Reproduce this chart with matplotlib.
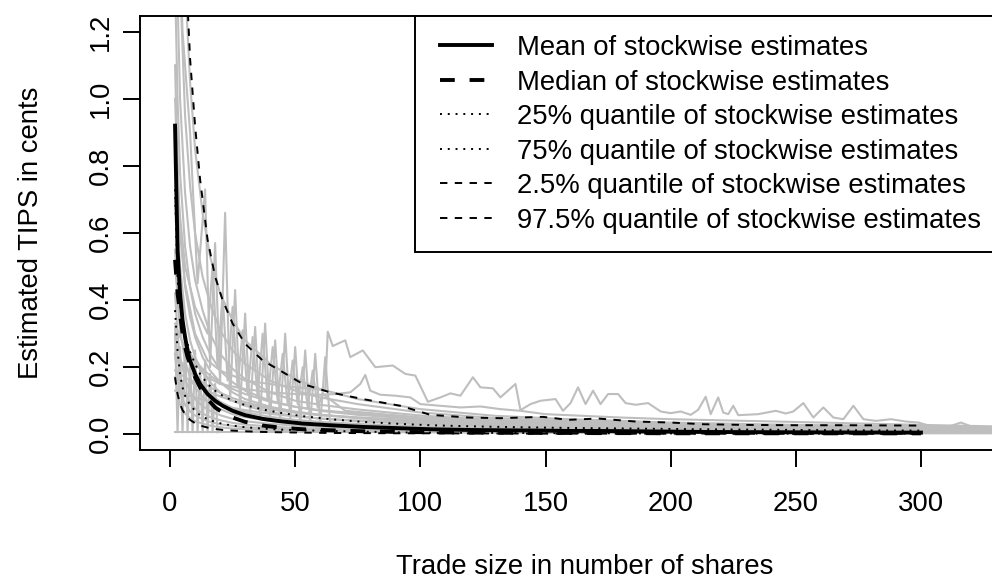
import matplotlib
matplotlib.use("Agg")
import matplotlib.pyplot as plt
from matplotlib.lines import Line2D
from matplotlib.patches import Rectangle

plt.rcParams["font.family"] = ["Liberation Sans", "DejaVu Sans"]

# ---- summary curves ----
q_x = [2, 3, 4, 5, 6, 7, 8, 10, 12, 15, 18, 21, 25, 30, 37, 44, 53, 64, 77, 92,
       104, 119, 132, 149, 159, 171, 186, 200, 213, 230, 250, 270, 300]
mean_y = [0.92, 0.55, 0.42, 0.34, 0.29, 0.25, 0.22, 0.18, 0.15, 0.12, 0.10, 0.085,
          0.07, 0.057, 0.046, 0.039, 0.032, 0.027, 0.022, 0.018, 0.015, 0.013, 0.012,
          0.011, 0.010, 0.010, 0.009, 0.008, 0.007, 0.0065, 0.006, 0.0055, 0.005]
median_y = [0.52, 0.42, 0.36, 0.30, 0.26, 0.23, 0.21, 0.17, 0.14, 0.105, 0.08, 0.065,
            0.05, 0.037, 0.026, 0.02, 0.015, 0.012, 0.009, 0.007, 0.006, 0.005, 0.0045,
            0.004, 0.004, 0.0035, 0.0035, 0.003, 0.003, 0.003, 0.003, 0.0028, 0.0028]
q25_y = [0.37, 0.25, 0.18, 0.14, 0.115, 0.10, 0.088, 0.07, 0.057, 0.045, 0.037, 0.031,
         0.026, 0.021, 0.017, 0.014, 0.012, 0.010, 0.008, 0.0055, 0.005, 0.0045, 0.004,
         0.0035, 0.0033, 0.003, 0.0028, 0.0026, 0.0024, 0.0022, 0.002, 0.002, 0.002]
q75_y = [0.73, 0.46, 0.39, 0.34, 0.30, 0.27, 0.245, 0.21, 0.18, 0.15, 0.13, 0.115,
         0.10, 0.087, 0.074, 0.064, 0.054, 0.045, 0.037, 0.031, 0.027, 0.024, 0.022,
         0.02, 0.019, 0.018, 0.017, 0.016, 0.015, 0.014, 0.013, 0.012, 0.011]
q025_y = [0.17, 0.12, 0.09, 0.072, 0.06, 0.05, 0.043, 0.033, 0.026, 0.02, 0.016, 0.013,
          0.011, 0.009, 0.007, 0.006, 0.005, 0.004, 0.0035, 0.003, 0.003, 0.0025, 0.0025,
          0.002, 0.002, 0.002, 0.0018, 0.0018, 0.0016, 0.0016, 0.0015, 0.0015, 0.0015]
q975_y = [3.5, 2.6, 2.1, 1.75, 1.5, 1.28, 1.12, 0.92, 0.76, 0.58, 0.47, 0.40, 0.33,
          0.27, 0.22, 0.19, 0.15, 0.125, 0.105, 0.085, 0.058, 0.05, 0.048, 0.052, 0.043,
          0.047, 0.038, 0.035, 0.03, 0.028, 0.027, 0.027, 0.026]

# ---- individual stocks (grey) ----
grid_x = [2, 3, 4, 6, 8, 10, 13, 16, 20, 25, 30, 40, 50, 60, 75, 100, 130, 160, 200,
          250, 300, 340]
stock_a = [3.2, 2.4, 1.9, 1.35, 1.05, 0.85, 0.66, 0.53, 0.42, 0.34, 0.28, 0.21, 0.165,
           0.135, 0.105, 0.075, 0.055, 0.045, 0.035, 0.028, 0.024, 0.02]
stock_b = [2.2, 1.7, 1.35, 0.95, 0.74, 0.6, 0.47, 0.39, 0.31, 0.25, 0.21, 0.16, 0.13,
           0.11, 0.09, 0.065, 0.048, 0.04, 0.032, 0.025, 0.021, 0.018]
stock_c = [1.7, 1.3, 1.0, 0.72, 0.56, 0.46, 0.37, 0.3, 0.24, 0.195, 0.165, 0.125, 0.1,
           0.088, 0.074, 0.056, 0.042, 0.035, 0.028, 0.022, 0.019, 0.016]
stock_d = [1.35, 1.0, 0.78, 0.56, 0.44, 0.36, 0.29, 0.24, 0.19, 0.155, 0.13, 0.1, 0.082,
           0.07, 0.058, 0.045, 0.035, 0.029, 0.024, 0.019, 0.016, 0.014]
stock_e = [1.1, 0.8, 0.62, 0.44, 0.35, 0.29, 0.23, 0.19, 0.155, 0.125, 0.105, 0.082,
           0.068, 0.058, 0.048, 0.037, 0.029, 0.025, 0.02, 0.016, 0.014, 0.012]
stock_f = [0.88, 0.64, 0.5, 0.36, 0.28, 0.23, 0.185, 0.155, 0.125, 0.1, 0.085, 0.066,
           0.055, 0.047, 0.039, 0.03, 0.024, 0.02, 0.017, 0.014, 0.012, 0.011]
stock_g = [0.7, 0.5, 0.39, 0.28, 0.22, 0.18, 0.145, 0.12, 0.097, 0.078, 0.066, 0.052,
           0.043, 0.037, 0.031, 0.024, 0.019, 0.016, 0.014, 0.012, 0.01, 0.009]
stock_h = [0.55, 0.4, 0.31, 0.22, 0.17, 0.14, 0.112, 0.093, 0.075, 0.06, 0.051, 0.04,
           0.033, 0.028, 0.024, 0.019, 0.015, 0.013, 0.011, 0.009, 0.008, 0.007]
stock_i = [0.42, 0.3, 0.23, 0.165, 0.128, 0.105, 0.084, 0.07, 0.057, 0.046, 0.039,
           0.031, 0.026, 0.022, 0.019, 0.015, 0.012, 0.01, 0.009, 0.008, 0.007, 0.006]
stock_j = [0.32, 0.23, 0.17, 0.12, 0.094, 0.077, 0.062, 0.051, 0.042, 0.034, 0.029,
           0.023, 0.019, 0.016, 0.014, 0.011, 0.009, 0.008, 0.007, 0.006, 0.005, 0.005]
stock_k = [0.24, 0.17, 0.125, 0.088, 0.068, 0.056, 0.045, 0.037, 0.03, 0.025, 0.021,
           0.017, 0.014, 0.012, 0.01, 0.008, 0.007, 0.006, 0.005, 0.0045, 0.004, 0.004]
stock_l = [0.17, 0.12, 0.088, 0.062, 0.048, 0.039, 0.032, 0.026, 0.021, 0.017, 0.015,
           0.012, 0.01, 0.0085, 0.0072, 0.006, 0.005, 0.0045, 0.004, 0.0035, 0.003, 0.003]
stock_m = [0.33, 0.31, 0.29, 0.26, 0.24, 0.22, 0.195, 0.175, 0.155, 0.135, 0.12, 0.097,
           0.082, 0.072, 0.062, 0.05, 0.041, 0.035, 0.029, 0.023, 0.02, 0.017]
stock_n = [0.24, 0.23, 0.22, 0.2, 0.185, 0.17, 0.155, 0.14, 0.124, 0.108, 0.096, 0.078,
           0.066, 0.058, 0.05, 0.04, 0.033, 0.028, 0.024, 0.02, 0.017, 0.015]
stock_o = [0.19, 0.185, 0.18, 0.17, 0.16, 0.15, 0.138, 0.126, 0.113, 0.1, 0.09, 0.074,
           0.064, 0.057, 0.05, 0.041, 0.034, 0.029, 0.025, 0.021, 0.018, 0.016]
stock_p = [0.13, 0.128, 0.125, 0.12, 0.115, 0.11, 0.103, 0.096, 0.088, 0.079, 0.072,
           0.061, 0.053, 0.047, 0.041, 0.034, 0.028, 0.024, 0.021, 0.018, 0.016, 0.014]

# stocks with their own trade-size grids
bump_x = [2, 4, 6, 10, 15, 20, 30, 40, 50, 60, 66, 72, 76, 78, 80, 84, 90, 96, 100, 108,
          116, 124, 132, 140, 150, 165, 180, 200, 230, 260, 300, 340]
bump_y = [0.5, 0.35, 0.28, 0.21, 0.17, 0.15, 0.135, 0.125, 0.12, 0.118, 0.12, 0.125,
          0.15, 0.177, 0.13, 0.118, 0.115, 0.11, 0.09, 0.085, 0.08, 0.083, 0.075, 0.07,
          0.06, 0.055, 0.05, 0.045, 0.04, 0.035, 0.028, 0.022]
noisy_x = [2, 4, 6, 10, 15, 20, 30, 40, 50, 58, 62, 63, 65, 67, 70, 72, 77, 82, 89, 94,
           98, 103, 108, 112, 116, 121, 124, 129, 132, 138, 140, 144, 148, 154, 157, 160,
           163, 166, 169, 172, 175, 179, 182, 186, 191, 196, 200, 204, 208, 211, 214, 216,
           219, 221, 223, 225, 227, 235, 242, 246, 249, 253, 257, 261, 265, 269, 273, 277,
           282, 288, 294, 299, 305, 310, 316, 322, 330, 340]
noisy_y = [1.0, 0.6, 0.45, 0.3, 0.22, 0.19, 0.16, 0.15, 0.14, 0.135, 0.13, 0.306, 0.263,
           0.27, 0.28, 0.23, 0.25, 0.20, 0.205, 0.18, 0.175, 0.097, 0.11, 0.122, 0.115,
           0.17, 0.14, 0.137, 0.11, 0.15, 0.072, 0.09, 0.10, 0.105, 0.07, 0.093, 0.14,
           0.09, 0.13, 0.09, 0.12, 0.12, 0.093, 0.088, 0.093, 0.068, 0.063, 0.068, 0.058,
           0.073, 0.112, 0.06, 0.11, 0.065, 0.06, 0.085, 0.057, 0.06, 0.07, 0.062, 0.068,
           0.093, 0.05, 0.08, 0.05, 0.045, 0.085, 0.045, 0.04, 0.045, 0.038, 0.035, 0.022,
           0.02, 0.035, 0.018, 0.02, 0.025]
zig1_x = [2, 3, 4, 5, 6, 7, 8, 9, 10, 11, 12, 13, 14, 15, 16, 17, 18, 19]
zig1_y = [0.3, 0.006, 0.26, 0.006, 0.3, 0.006, 0.22, 0.006, 0.25, 0.006, 0.2, 0.006,
          0.22, 0.006, 0.18, 0.006, 0.15, 0.006]
zig2_x = [2, 5, 8, 11, 14, 16, 18, 20, 22, 24, 26, 28, 30, 32, 34, 36, 38, 40, 42, 44,
          46, 48, 50, 52, 54, 56, 58, 60, 62, 64, 70, 80, 100, 130, 170, 220, 280, 340]
zig2_y = [1.9, 1.2, 0.9, 0.45, 0.73, 0.2, 0.57, 0.15, 0.66, 0.1, 0.43, 0.08, 0.36, 0.06,
          0.32, 0.05, 0.33, 0.05, 0.28, 0.04, 0.3, 0.04, 0.26, 0.03, 0.25, 0.03, 0.24,
          0.03, 0.23, 0.03, 0.028, 0.025, 0.02, 0.016, 0.013, 0.011, 0.01, 0.009]
zig3_x = [2, 6, 10, 15, 17, 19, 21, 23, 25, 27, 29, 31, 33, 35, 37, 39, 41, 43, 45, 47,
          49, 51, 53, 55, 57, 59, 61, 70, 100, 150, 200, 300, 340]
zig3_y = [0.8, 0.5, 0.38, 0.3, 0.5, 0.2, 0.42, 0.16, 0.38, 0.14, 0.31, 0.12, 0.29, 0.11,
          0.3, 0.1, 0.26, 0.1, 0.24, 0.09, 0.22, 0.09, 0.2, 0.08, 0.19, 0.08, 0.12, 0.07,
          0.05, 0.035, 0.028, 0.02, 0.018]
flat_x = [2, 340]
flat_y = [0.006, 0.006]

legend_labels = [
    "Mean of stockwise estimates",
    "Median of stockwise estimates",
    "25% quantile of stockwise estimates",
    "75% quantile of stockwise estimates",
    "2.5% quantile of stockwise estimates",
    "97.5% quantile of stockwise estimates",
]

W, H, DPI = 992, 580, 100
FS = 19.8
PX = 72.0 / DPI          # points per pixel
FS_PX = FS / PX
GREY = "#bebebe"

fig = plt.figure(figsize=(W / DPI, H / DPI), dpi=DPI)
# plot box in pixels; like the original it runs past the right edge of the picture
left, right, top, bottom = 140, 1028.6, 15.6, 450.4
ax = fig.add_axes([left / W, 1 - bottom / H, (right - left) / W, (bottom - top) / H])


def ax_x(px):
    return (px - left) / (right - left)


def ax_y(py):
    return (bottom - py) / (bottom - top)


smooth = [stock_a, stock_b, stock_c, stock_d, stock_e, stock_f, stock_g, stock_h,
          stock_i, stock_j, stock_k, stock_l, stock_m, stock_n, stock_o, stock_p]
for ys in smooth:
    ax.plot(grid_x, ys, color=GREY, lw=1.5, zorder=1)
for xs, ys in [(bump_x, bump_y), (noisy_x, noisy_y), (zig1_x, zig1_y),
               (zig2_x, zig2_y), (zig3_x, zig3_y), (flat_x, flat_y)]:
    ax.plot(xs, ys, color=GREY, lw=1.5, zorder=1)

styles = [
    dict(lw=2.8, ls="-"),
    dict(lw=2.8, ls=(0, (3.8, 3.8))),
    dict(lw=1.4, ls=(0, (1, 3))),
    dict(lw=1.4, ls=(0, (1, 3))),
    dict(lw=1.4, ls=(0, (3.8, 3.8))),
    dict(lw=1.4, ls=(0, (3.8, 3.8))),
]
for ys, st in zip([mean_y, median_y, q25_y, q75_y, q025_y, q975_y], styles):
    ax.plot(q_x, ys, color="black", zorder=3, **st)

ax.set_xlim(-12, 343)
ax.set_ylim(-0.048, 1.248)
ax.set_xticks(range(0, 301, 50))
yt = [0.0, 0.2, 0.4, 0.6, 0.8, 1.0, 1.2]
ax.set_yticks(yt)
ax.set_yticklabels([f"{v:.1f}" for v in yt])
ax.tick_params(direction="out", length=17 * PX, width=1.4, labelsize=FS)
ax.tick_params(axis="x", pad=17.2)
ax.tick_params(axis="y", pad=6.9, labelrotation=90)
for lbl in ax.get_yticklabels():
    lbl.set_va("center")
for s in ax.spines.values():
    s.set_linewidth(1.4)

ax.set_xlabel("Trade size in number of shares", fontsize=FS, labelpad=26.5)
ax.set_ylabel("Estimated TIPS in cents", fontsize=FS, labelpad=31)

# legend box drawn on its own so its frame sits where R puts it
frame = Rectangle((ax_x(415), ax_y(252)), 1 - ax_x(415), 1 - ax_y(252),
                  transform=ax.transAxes, facecolor="white", edgecolor="black",
                  lw=1.4, zorder=4, clip_on=False)
ax.add_patch(frame)
handles = [Line2D([], [], color="black", **st) for st in styles]
leg = ax.legend(handles, legend_labels, loc="upper left",
                bbox_to_anchor=(ax_x(440), ax_y(35)), frameon=False, borderpad=0,
                borderaxespad=0, handlelength=52 / FS_PX, handletextpad=25 / FS_PX,
                labelspacing=0.31, fontsize=FS)
leg.set_zorder(5)

fig.savefig("out.png", dpi=DPI)
